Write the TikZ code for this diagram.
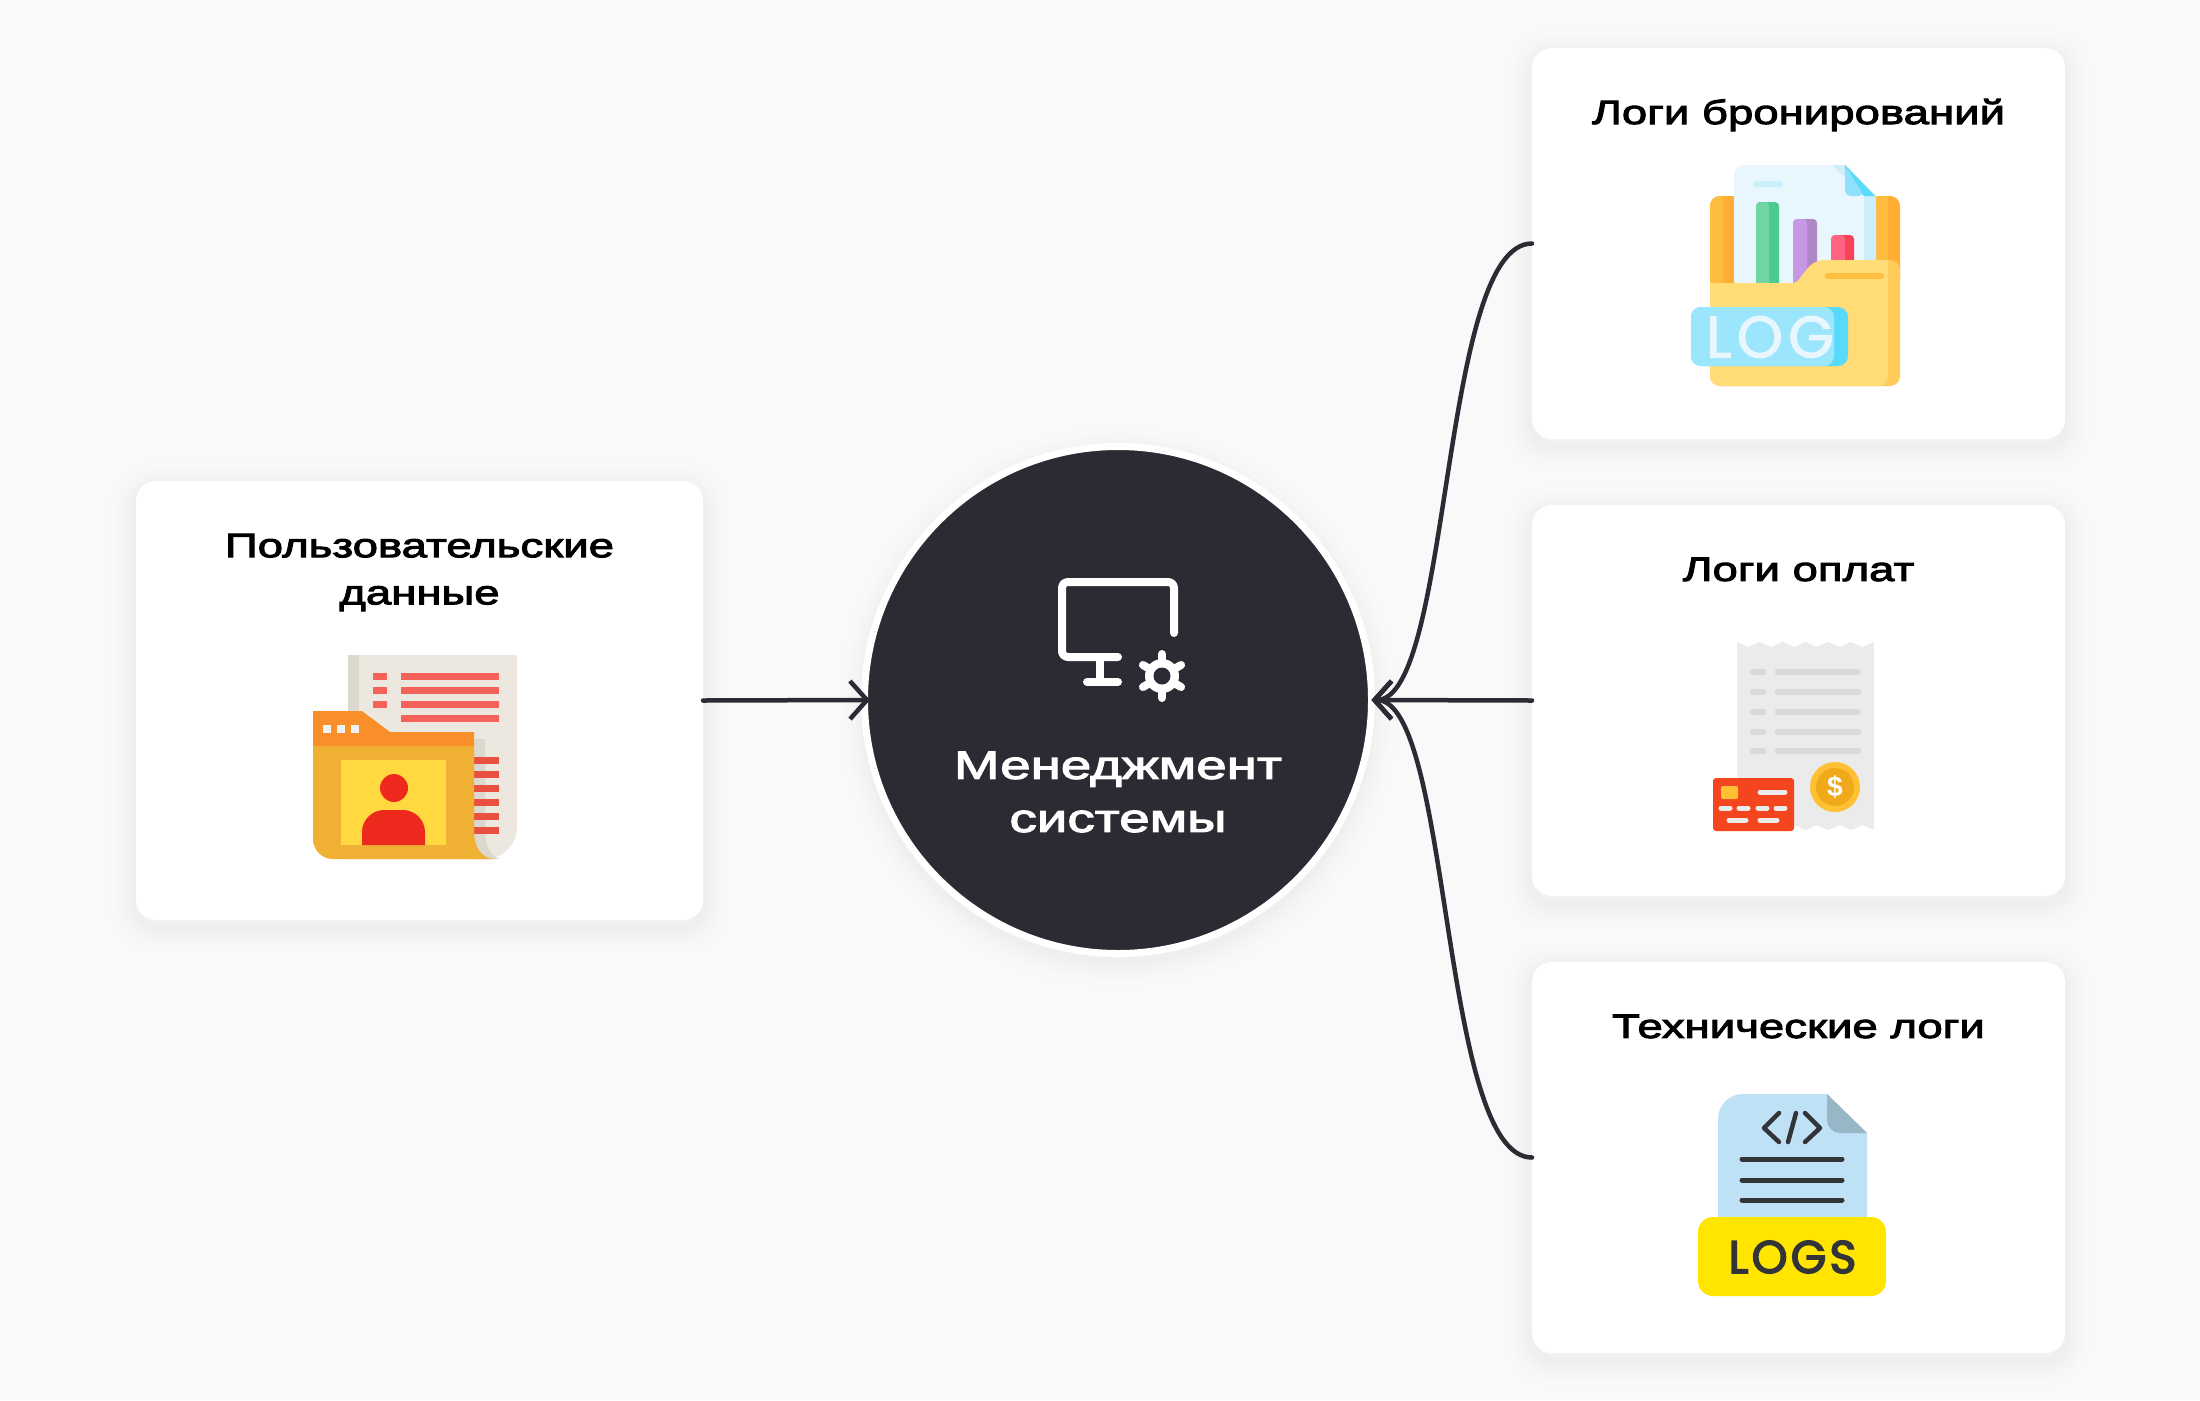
\documentclass[tikz,border=0pt]{standalone}
\usepackage{fontspec}
\usetikzlibrary{arrows.meta}
\setmainfont{Liberation Sans}[FakeStretch=1.35, FakeBold=3]
\newfontfamily\corefont{Liberation Sans}[FakeStretch=1.39, FakeBold=3]
\newfontfamily\logfont{Poppins}[LetterSpace=9, FakeBold=2]
\newfontfamily\logsfont{Poppins}[LetterSpace=7, FakeBold=3.5]
\newfontfamily\coinfont{Liberation Sans Bold}
\definecolor{pagebg}{HTML}{F9F9F9}
\definecolor{ink}{HTML}{2A2B33}
\definecolor{codeink}{HTML}{333438}
\definecolor{paper}{HTML}{ECE8DF}
\definecolor{papershade}{HTML}{DCD8CE}
\definecolor{redline}{HTML}{F4625A}
\definecolor{redlinedark}{HTML}{E8503F}
\definecolor{foldertab}{HTML}{F98F28}
\definecolor{folderbody}{HTML}{F0B033}
\definecolor{tabdot}{HTML}{F2F2F2}
\definecolor{photo}{HTML}{FFD93F}
\definecolor{person}{HTML}{EE2A1F}
\definecolor{backdark}{HTML}{FFAE33}
\definecolor{backlight}{HTML}{FFBD3F}
\definecolor{sheet}{HTML}{E8F6FE}
\definecolor{sheetshade}{HTML}{CDEEFD}
\definecolor{folddark}{HTML}{5ADAFB}
\definecolor{foldlight}{HTML}{8FE0FB}
\definecolor{greenlight}{HTML}{6FD6A2}
\definecolor{greendark}{HTML}{4CCB8F}
\definecolor{purplelight}{HTML}{C798E4}
\definecolor{purpledark}{HTML}{AE87C6}
\definecolor{redlight}{HTML}{FF6580}
\definecolor{reddark}{HTML}{F9425A}
\definecolor{frontdark}{HTML}{FFCC59}
\definecolor{front}{HTML}{FFDC75}
\definecolor{slot}{HTML}{FFBE40}
\definecolor{logtag}{HTML}{9BE5FD}
\definecolor{receipt}{HTML}{EBEBEB}
\definecolor{receiptline}{HTML}{D9D9D9}
\definecolor{coin}{HTML}{FFC033}
\definecolor{coininner}{HTML}{F0A91A}
\definecolor{bankcard}{HTML}{F5451F}
\definecolor{filebg}{HTML}{BEE1F6}
\definecolor{filefold}{HTML}{97B7C7}
\definecolor{logstag}{HTML}{FFE500}

\begin{document}
\begin{tikzpicture}[
        softshadow/.style={
            preaction={draw=black, draw opacity=.005, line width=.50cm, transform canvas={yshift=-2pt}},
            preaction={draw=black, draw opacity=.006, line width=.38cm, transform canvas={yshift=-2pt}},
            preaction={draw=black, draw opacity=.007, line width=.27cm, transform canvas={yshift=-2pt}},
            preaction={draw=black, draw opacity=.008, line width=.18cm, transform canvas={yshift=-2pt}},
            preaction={draw=black, draw opacity=.010, line width=.09cm, transform canvas={yshift=-2pt}}
        },
        card/.style={rectangle, rounded corners=.2cm, fill=white, outer sep=0pt, softshadow},
        logcard/.style={card, minimum width=5.33cm, minimum height=3.91cm},
        cardtitle/.style={align=center, text=black, font=\fontsize{9.6}{13.4}\selectfont},
        conn/.style={draw=ink, line width=.045cm, line cap=round, -{Straight Barb[length=.17cm, width=.38cm, line width=.045cm]}},
        bar/.style={line width=.065cm, line cap=round},
        white stroke/.style={draw=white, line width=.08cm, line cap=round, line join=round}
    ]
    \useasboundingbox (0,0) rectangle (22,-14);
    \fill[pagebg] (0,0) rectangle (22,-14);

    % cards
    \node[card, minimum width=5.67cm, minimum height=4.39cm] (userdata) at (4.195,-7.005) {};
    \node[logcard] (bookings) at (17.985,-2.435) {};
    \node[logcard] (payments) at (17.985,-7.005) {};
    \node[logcard] (techlogs) at (17.985,-11.575) {};

    \node[cardtitle] (userdatatitle) at (4.195,-5.725) {Пользовательские\\данные};
    \node[cardtitle] (bookingstitle) at (17.985,-1.15) {Логи бронирований};
    \node[cardtitle] (paymentstitle) at (17.985,-5.695) {Логи оплат};
    \node[cardtitle] (techlogstitle) at (17.985,-10.265) {Технические логи};

    % center
    \node[circle, fill=ink, draw=white, line width=.07cm, outer sep=0pt, minimum size=5.07cm, softshadow] (core) at (11.18,-7) {};
    \node[align=center, text=white, font=\corefont\fontsize{11.2}{15.1}\selectfont] (coretitle) at (11.18,-7.92) {Менеджмент\\системы};

    % monitor and gear
    \draw[white stroke] (11.18,-6.57) -- (10.68,-6.57) arc (270:180:.06) -- (10.62,-5.88) arc (180:90:.06) -- (11.68,-5.82) arc (90:0:.06) -- (11.74,-6.33);
    \draw[white stroke] (11,-6.57) -- (11,-6.82);
    \draw[white stroke] (10.87,-6.82) -- (11.18,-6.82);
    \foreach \a in {30,90,...,330} {
        \draw[white stroke] (11.62,-6.76) -- ++(\a:.22);
    }
    \fill[white] (11.62,-6.76) circle (.17);
    \fill[ink] (11.62,-6.76) circle (.085);

    % connectors
    \draw[conn, shorten >=-.055cm] (userdata.east) -- (core.west);
    \draw[conn] (payments.west) -- (core.east);
    \draw[conn] (bookings.west) .. controls (14.4,-2.435) and (14.52,-7) .. (core.east);
    \draw[conn] (techlogs.west) .. controls (14.4,-11.575) and (14.52,-7) .. (core.east);

    % user data icon
    \fill[paper] (3.48,-6.55) -- (5.17,-6.55) -- (5.17,-8.27) arc (0:-90:.32) -- (3.48,-8.59) -- cycle;
    \fill[papershade] (3.48,-6.55) rectangle (3.59,-7.6);
    \fill[papershade] (4.7,-7.39) -- (4.85,-7.39) -- (4.85,-8.32) .. controls (4.85,-8.47) and (4.92,-8.59) .. (5.02,-8.59) -- (4.7,-8.59) -- cycle;
    \foreach \y in {6.73,6.87,7.01} {
        \fill[redline] (3.73,-\y) rectangle (3.87,-\y-.07);
    }
    \foreach \y in {6.73,6.87,7.01,7.15} {
        \fill[redline] (4.01,-\y) rectangle (4.99,-\y-.07);
    }
    \foreach \y in {7.57,7.71,7.85,7.99,8.13,8.27} {
        \fill[redlinedark] (4.74,-\y) rectangle (4.99,-\y-.07);
    }
    \fill[foldertab] (3.13,-7.11) -- (3.62,-7.11) -- (3.9,-7.32) -- (4.74,-7.32) -- (4.74,-7.47) -- (3.13,-7.47) -- cycle;
    \fill[folderbody] (3.13,-7.46) -- (4.74,-7.46) -- (4.74,-8.32) .. controls (4.74,-8.47) and (4.82,-8.59) .. (4.95,-8.59) -- (3.33,-8.59) arc (270:180:.2) -- cycle;
    \foreach \x in {3.23,3.37,3.51} {
        \fill[tabdot] (\x,-7.25) rectangle (\x+.08,-7.33);
    }
    \fill[photo] (3.41,-7.6) rectangle (4.46,-8.45);
    \fill[person] (3.94,-7.88) circle (.14);
    \fill[person] (3.62,-8.45) -- (3.62,-8.32) .. controls (3.62,-8.2) and (3.72,-8.1) .. (3.84,-8.1) -- (4.03,-8.1) .. controls (4.15,-8.1) and (4.25,-8.2) .. (4.25,-8.32) -- (4.25,-8.45) -- cycle;

    % bookings icon
    \fill[backdark, rounded corners=.1cm] (17.1,-2.9) -- (17.1,-1.96) -- (19,-1.96) -- (19,-2.9) -- cycle;
    \fill[backlight, rounded corners=.1cm] (17.1,-2.9) -- (17.1,-1.96) -- (17.3,-1.96) -- (17.3,-2.9) -- cycle;
    \fill[backdark] (17.23,-1.96) rectangle (17.34,-2.9);
    \fill[backlight] (18.76,-1.96) rectangle (18.88,-2.7);
    \fill[sheet, rounded corners=.1cm] (17.34,-2.9) -- (17.34,-1.65) -- (18.45,-1.65) -- (18.76,-1.96) -- (18.76,-2.9) -- cycle;
    \fill[sheetshade] (18.32,-1.65) -- (18.45,-1.65) -- (18.76,-1.96) -- (18.64,-1.96) -- cycle;
    \fill[sheetshade] (18.64,-1.96) rectangle (18.76,-2.7);
    \fill[folddark] (18.45,-1.65) -- (18.75,-1.96) -- (18.64,-1.96) -- (18.45,-1.76) -- cycle;
    \fill[foldlight, rounded corners=.06cm] (18.45,-1.65) -- (18.45,-1.96) -- (18.64,-1.96) -- cycle;
    \fill[sheetshade, rounded corners=.03cm] (17.53,-1.81) rectangle (17.83,-1.87);
    \fill[greendark, rounded corners=.04cm] (17.56,-2.02) rectangle (17.79,-2.9);
    \fill[greenlight, rounded corners=.04cm] (17.56,-2.02) rectangle (17.69,-2.9);
    \fill[purpledark, rounded corners=.04cm] (17.93,-2.19) rectangle (18.17,-2.9);
    \fill[purplelight, rounded corners=.04cm] (17.93,-2.19) rectangle (18.07,-2.9);
    \fill[reddark, rounded corners=.04cm] (18.31,-2.35) rectangle (18.54,-2.7);
    \fill[redlight, rounded corners=.04cm] (18.31,-2.35) rectangle (18.45,-2.7);
    \fill[frontdark, rounded corners=.1cm] (17.1,-2.83) -- (17.1,-3.86) -- (19,-3.86) -- (19,-2.6) -- (18.2,-2.6) -- (18.2,-2.83) -- cycle;
    \fill[front] (18.25,-2.6) -- (18.88,-2.6) -- (18.88,-3.76) arc (0:-90:.1) -- (17.2,-3.86) arc (270:180:.1) -- (17.1,-2.83) -- (17.93,-2.83) .. controls (18.02,-2.83) and (18.05,-2.6) .. (18.25,-2.6) -- cycle;
    \draw[slot, bar] (18.28,-2.76) -- (18.81,-2.76);
    \fill[folddark, rounded corners=.1cm] (16.91,-3.07) rectangle (18.48,-3.66);
    \fill[logtag, rounded corners=.1cm] (16.91,-3.07) rectangle (18.34,-3.66);
    \node[text=sheet, font=\logfont\fontsize{16.7}{20}\selectfont] (logword) at (17.7,-3.37) {LOG};

    % payments icon
    \fill[receipt] (17.37,-6.42) \foreach \i in {1,...,6} { -- ++(.114,-.05) -- ++(.114,.05) }
        -- (18.74,-8.3) \foreach \i in {1,...,6} { -- ++(-.114,.05) -- ++(-.114,-.05) } -- cycle;
    \foreach \y in {6.72,6.92,7.12,7.32,7.51} {
        \draw[receiptline, bar] (17.53,-\y) -- (17.63,-\y);
        \draw[receiptline, bar] (17.78,-\y) -- (18.58,-\y);
    }
    \fill[coin] (18.35,-7.87) circle (.25);
    \fill[coininner] (18.35,-7.87) circle (.19);
    \node[text=white, font=\coinfont\fontsize{8}{8}\selectfont] (dollar) at (18.35,-7.87) {\$};
    \fill[bankcard, rounded corners=.03cm] (17.13,-7.78) rectangle (17.94,-8.31);
    \fill[coin, rounded corners=.02cm] (17.21,-7.86) rectangle (17.38,-7.99);
    \draw[receipt, line width=.05cm, line cap=round] (17.6,-7.92) -- (17.85,-7.92);
    \foreach \x in {17.21,17.39,17.58,17.76} {
        \draw[receipt, line width=.05cm, line cap=round] (\x,-8.08) -- (\x+.09,-8.08);
    }
    \draw[receipt, line width=.05cm, line cap=round] (17.29,-8.2) -- (17.46,-8.2);
    \draw[receipt, line width=.05cm, line cap=round] (17.6,-8.2) -- (17.77,-8.2);

    % technical logs icon
    \fill[filebg] (17.18,-12.4) -- (17.18,-11.19) arc (180:90:.25) -- (18.27,-10.94) -- (18.67,-11.33) -- (18.67,-12.4) -- cycle;
    \fill[filefold] (18.27,-10.94) -- (18.27,-11.2) arc (180:270:.13) -- (18.67,-11.33) -- cycle;
    \draw[codeink, line width=.045cm, line cap=round, line join=round] (17.79,-11.13) -- (17.64,-11.28) -- (17.79,-11.42);
    \draw[codeink, line width=.045cm, line cap=round, line join=round] (18.05,-11.13) -- (18.2,-11.28) -- (18.05,-11.42);
    \draw[codeink, line width=.045cm, line cap=round] (17.96,-11.13) -- (17.88,-11.42);
    \foreach \y in {11.59,11.8,12} {
        \draw[codeink, line width=.05cm, line cap=round] (17.42,-\y) -- (18.42,-\y);
    }
    \fill[logstag, rounded corners=.15cm] (16.98,-12.17) rectangle (18.86,-12.96);
    \node[text=codeink, font=\logsfont\fontsize{13}{16}\selectfont] (logsword) at (17.925,-12.57) {LOGS};
\end{tikzpicture}
\end{document}
